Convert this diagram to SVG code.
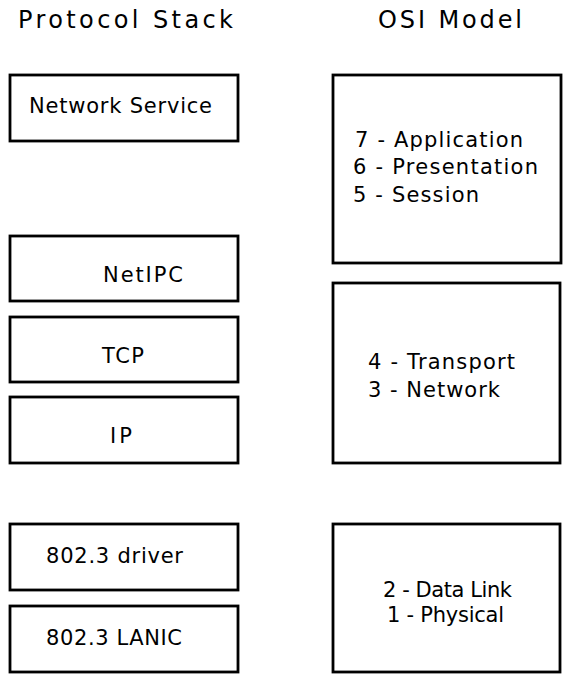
<svg xmlns="http://www.w3.org/2000/svg" width="564" height="675" viewBox="0 0 564 675">
<style>
.box{fill:#fff;stroke:#000;stroke-width:2.8}
text{font-family:"DejaVu Sans","Liberation Sans",sans-serif;fill:#000}
.t{font-size:24px}
.l{font-size:21px}
</style>
<rect width="564" height="675" fill="#fff"/>
<text class="t" x="18" y="28" textLength="215" lengthAdjust="spacing">Protocol Stack</text>
<text class="t" x="378" y="28" textLength="144" lengthAdjust="spacing">OSI Model</text>
<g id="network-service"><rect class="box" x="10" y="75" width="228" height="66"/><text class="l" x="29" y="113" textLength="183" lengthAdjust="spacing">Network Service</text></g>
<g id="netipc"><rect class="box" x="10" y="236" width="228" height="65"/><text class="l" x="103" y="282" textLength="80" lengthAdjust="spacing">NetIPC</text></g>
<g id="tcp"><rect class="box" x="10" y="317" width="228" height="65"/><text class="l" x="102" y="363" textLength="42" lengthAdjust="spacing">TCP</text></g>
<g id="ip"><rect class="box" x="10" y="397" width="228" height="66"/><text class="l" x="110" y="443" textLength="22" lengthAdjust="spacing">IP</text></g>
<g id="driver"><rect class="box" x="10" y="524" width="228" height="66"/><text class="l" x="46" y="563" textLength="137" lengthAdjust="spacing">802.3 driver</text></g>
<g id="lanic"><rect class="box" x="10" y="606" width="228" height="66"/><text class="l" x="46" y="645" textLength="136" lengthAdjust="spacing">802.3 LANIC</text></g>
<g id="osi-upper"><rect class="box" x="333" y="75" width="228" height="188"/>
<text class="l" x="355" y="147" textLength="168" lengthAdjust="spacing">7 - Application</text>
<text class="l" x="353" y="174" textLength="185" lengthAdjust="spacing">6 - Presentation</text>
<text class="l" x="353" y="202" textLength="126" lengthAdjust="spacing">5 - Session</text></g>
<g id="osi-middle"><rect class="box" x="333" y="283" width="227" height="180"/>
<text class="l" x="368" y="369" textLength="147" lengthAdjust="spacing">4 - Transport</text>
<text class="l" x="368" y="397" textLength="132" lengthAdjust="spacing">3 - Network</text></g>
<g id="osi-lower"><rect class="box" x="333" y="524" width="227" height="148"/>
<text class="l" x="383" y="597" textLength="129" lengthAdjust="spacing">2 - Data Link</text>
<text class="l" x="387" y="622" textLength="117" lengthAdjust="spacing">1 - Physical</text></g>
<g id="connectors"/>
</svg>
